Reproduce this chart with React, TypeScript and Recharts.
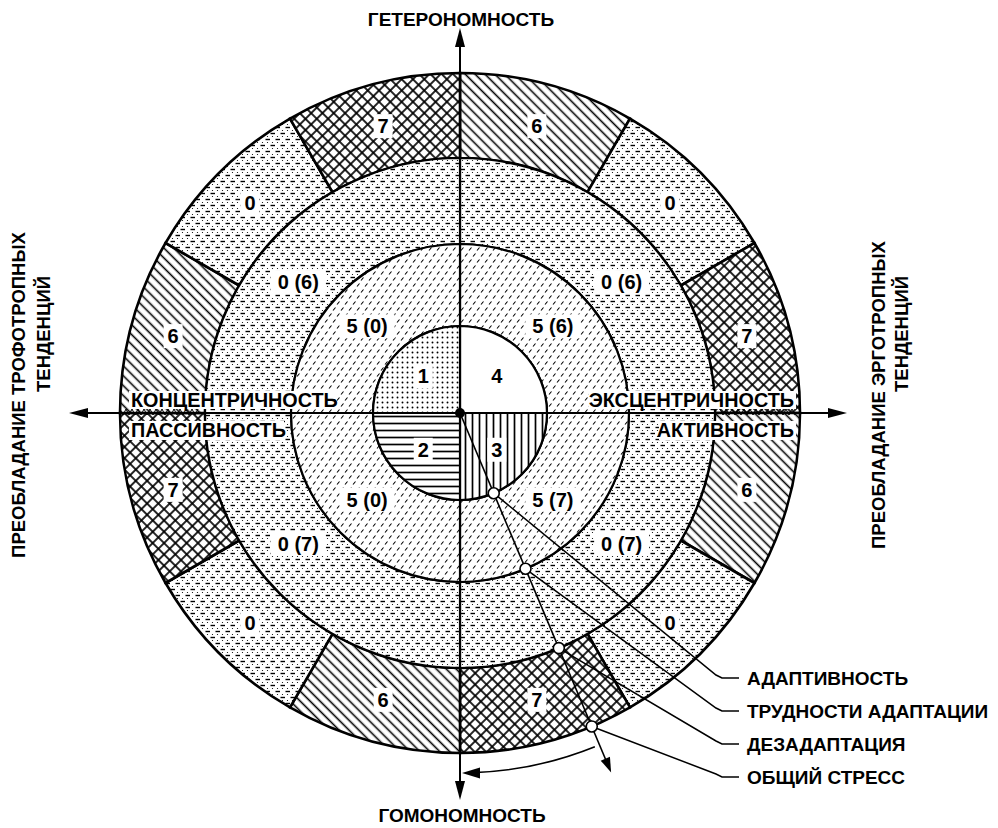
import React from "react";
import { PieChart, Pie, Cell } from "recharts";

// sectors go clockwise from 12 o'clock
const coreLabels = ["4", "3", "2", "1"];
const innerRingLabels = ["5 (6)", "5 (7)", "5 (0)", "5 (0)"];
const middleRingLabels = ["0 (6)", "0 (7)", "0 (7)", "0 (6)"];
const outerRingLabels = ["6", "0", "7", "6", "0", "7", "6", "0", "7", "6", "0", "7"];

const calloutLabels = ["АДАПТИВНОСТЬ", "ТРУДНОСТИ АДАПТАЦИИ", "ДЕЗАДАПТАЦИЯ", "ОБЩИЙ СТРЕСС"];
const topLabel = "ГЕТЕРОНОМНОСТЬ";
const bottomLabel = "ГОМОНОМНОСТЬ";
const leftTitle = ["ПРЕОБЛАДАНИЕ ТРОФОТРОПНЫХ", "ТЕНДЕНЦИЙ"];
const rightTitle = ["ПРЕОБЛАДАНИЕ ЭРГОТРОПНЫХ", "ТЕНДЕНЦИЙ"];
const leftAxisLabels = ["КОНЦЕНТРИЧНОСТЬ", "ПАССИВНОСТЬ"];
const rightAxisLabels = ["ЭКСЦЕНТРИЧНОСТЬ", "АКТИВНОСТЬ"];

const CX = 460;
const CY = 413;
const R_CORE = 87;
const R_INNER = 169;
const R_MIDDLE = 255;
const R_OUTER = 340;
const STRESS_ANGLE = 157.2; // compass degrees, clockwise from up
const FONT = "'Liberation Sans', Arial, sans-serif";

const coreFills = ["#ffffff", "url(#pVert)", "url(#pHoriz)", "url(#pDots)"];
const outerFill: Record<string, string> = {
  "6": "url(#pDiag)",
  "0": "url(#pDash)",
  "7": "url(#pCross)",
};

const toData = (labels: string[]) => labels.map((name) => ({ name, value: 1 }));

function polar(r: number, deg: number): [number, number] {
  const a = (deg * Math.PI) / 180;
  return [CX + r * Math.sin(a), CY - r * Math.cos(a)];
}

function makeLabel(labels: string[], r: number, tilt: number) {
  return (props: any) => {
    const { cx, cy, midAngle, index } = props;
    let a = ((midAngle % 360) + 360) % 360;
    // nudge toward the horizontal axis
    if (a < 90 || (a >= 180 && a < 270)) a -= tilt;
    else a += tilt;
    const rad = (a * Math.PI) / 180;
    const x = cx + r * Math.cos(rad);
    const y = cy - r * Math.sin(rad);
    const text = labels[index];
    const w = text.length * 9 + 10;
    return (
      <g key={`lbl-${index}`}>
        <rect x={x - w / 2} y={y - 12} width={w} height={24} fill="#fff" />
        <text
          x={x}
          y={y}
          textAnchor="middle"
          dominantBaseline="central"
          fontFamily={FONT}
          fontWeight="bold"
          fontSize={20}
          fill="#000"
        >
          {text}
        </text>
      </g>
    );
  };
}

function Patterns() {
  return (
    <defs>
      <pattern id="pDots" width="5" height="5" patternUnits="userSpaceOnUse">
        <rect width="5" height="5" fill="#fff" />
        <circle cx="2.5" cy="2.5" r="0.95" fill="#000" />
      </pattern>
      <pattern id="pHoriz" width="7" height="7" patternUnits="userSpaceOnUse">
        <rect width="7" height="7" fill="#fff" />
        <line x1="0" y1="3.5" x2="7" y2="3.5" stroke="#000" strokeWidth="1.7" />
      </pattern>
      <pattern id="pVert" width="7" height="7" patternUnits="userSpaceOnUse">
        <rect width="7" height="7" fill="#fff" />
        <line x1="3.5" y1="0" x2="3.5" y2="7" stroke="#000" strokeWidth="1.7" />
      </pattern>
      <pattern id="pDiag" width="7" height="7" patternUnits="userSpaceOnUse" patternTransform="rotate(45)">
        <rect width="7" height="7" fill="#fff" />
        <line x1="0" y1="3.5" x2="7" y2="3.5" stroke="#000" strokeWidth="1.6" />
      </pattern>
      <pattern id="pCross" width="8" height="8" patternUnits="userSpaceOnUse" patternTransform="rotate(45)">
        <rect width="8" height="8" fill="#fff" />
        <line x1="0" y1="4" x2="8" y2="4" stroke="#000" strokeWidth="1.7" />
        <line x1="4" y1="0" x2="4" y2="8" stroke="#000" strokeWidth="1.7" />
      </pattern>
      <pattern id="pSlash" width="8" height="12" patternUnits="userSpaceOnUse">
        <rect width="8" height="12" fill="#fff" />
        <line x1="1" y1="4.5" x2="3.5" y2="1.5" stroke="#000" strokeWidth="1.1" />
        <line x1="5" y1="10.5" x2="7.5" y2="7.5" stroke="#000" strokeWidth="1.1" />
      </pattern>
      <pattern id="pDash" width="10" height="12" patternUnits="userSpaceOnUse">
        <rect width="10" height="12" fill="#fff" />
        <line x1="0.5" y1="1.5" x2="5" y2="1.5" stroke="#000" strokeWidth="1.4" />
        <line x1="5.5" y1="7.5" x2="10" y2="7.5" stroke="#000" strokeWidth="1.4" />
        <circle cx="2.5" cy="4.5" r="0.6" fill="#000" />
        <circle cx="7.5" cy="4.5" r="0.6" fill="#000" />
        <circle cx="2.5" cy="10.5" r="0.6" fill="#000" />
        <circle cx="7.5" cy="10.5" r="0.6" fill="#000" />
      </pattern>
    </defs>
  );
}

function zigzag(x0: number, x1: number, y: number) {
  const pts: string[] = [];
  let up = true;
  for (let x = x0; x <= x1; x += 3) {
    pts.push(`${x},${up ? y - 3 : y + 3}`);
    up = !up;
  }
  return pts.join(" ");
}

function Overlay() {
  const txt = {
    fontFamily: FONT,
    fontWeight: "bold" as const,
    fontSize: 19,
    fill: "#000",
  };
  const points = [R_CORE, R_INNER, R_MIDDLE, R_OUTER].map((r) => polar(r, STRESS_ANGLE));
  const calloutY = [678, 711, 744, 777];
  const arrowEnd = polar(390, STRESS_ANGLE);
  const arcStart = polar(360, 158);
  const arcEnd = polar(360, 178.4);
  const ux = Math.sin((STRESS_ANGLE * Math.PI) / 180);
  const uy = -Math.cos((STRESS_ANGLE * Math.PI) / 180);

  return (
    <svg
      width={998}
      height={828}
      style={{ position: "absolute", left: 0, top: 0, pointerEvents: "none" }}
    >
      <Patterns />
      {/* axis band marks */}
      <polyline points={zigzag(120, 200, 412)} fill="none" stroke="#000" strokeWidth={1} />
      <polyline points={zigzag(720, 797, 412)} fill="none" stroke="#000" strokeWidth={1} />

      {/* axes */}
      <line x1={CX} y1={44} x2={CX} y2={786} stroke="#000" strokeWidth={2} />
      <polygon points={`${CX},28 ${CX - 5},47 ${CX + 5},47`} fill="#000" />
      <polygon points={`${CX},800 ${CX - 5},781 ${CX + 5},781`} fill="#000" />
      <line x1={84} y1={CY} x2={832} y2={CY} stroke="#000" strokeWidth={2} />
      <polygon points={`69,${CY} 88,${CY - 5} 88,${CY + 5}`} fill="#000" />
      <polygon points={`847,${CY} 828,${CY - 5} 828,${CY + 5}`} fill="#000" />

      {/* axis words inside the circle */}
      <rect x={129} y={391} width={208} height={18} fill="#fff" />
      <rect x={129} y={421} width={155} height={19} fill="#fff" />
      <rect x={589} y={391} width={207} height={18} fill="#fff" />
      <rect x={659} y={421} width={137} height={19} fill="#fff" />
      <text x={131} y={400} dominantBaseline="central" {...txt} fontSize={19.8}>{leftAxisLabels[0]}</text>
      <text x={131} y={430} dominantBaseline="central" {...txt} fontSize={19.8}>{leftAxisLabels[1]}</text>
      <text x={794} y={400} textAnchor="end" dominantBaseline="central" {...txt} fontSize={19.8}>{rightAxisLabels[0]}</text>
      <text x={794} y={430} textAnchor="end" dominantBaseline="central" {...txt} fontSize={19.8}>{rightAxisLabels[1]}</text>

      {/* titles */}
      <text x={461} y={19} textAnchor="middle" dominantBaseline="central" {...txt}>{topLabel}</text>
      <text x={462} y={815} textAnchor="middle" dominantBaseline="central" {...txt}>{bottomLabel}</text>
      <text x={18} y={395} transform="rotate(-90 18 395)" textAnchor="middle" dominantBaseline="central" {...txt} fontSize={18.5}>{leftTitle[0]}</text>
      <text x={43} y={334} transform="rotate(-90 43 334)" textAnchor="middle" dominantBaseline="central" {...txt} fontSize={18.5}>{leftTitle[1]}</text>
      <text x={878} y={395} transform="rotate(-90 878 395)" textAnchor="middle" dominantBaseline="central" {...txt} fontSize={18.5}>{rightTitle[0]}</text>
      <text x={901} y={334} transform="rotate(-90 901 334)" textAnchor="middle" dominantBaseline="central" {...txt} fontSize={18.5}>{rightTitle[1]}</text>

      {/* stress ray */}
      <line x1={CX} y1={CY} x2={arrowEnd[0] - ux * 12} y2={arrowEnd[1] - uy * 12} stroke="#000" strokeWidth={1.6} />
      <polygon
        points={`${arrowEnd[0]},${arrowEnd[1]} ${arrowEnd[0] - ux * 15 - uy * 5},${arrowEnd[1] - uy * 15 + ux * 5} ${arrowEnd[0] - ux * 15 + uy * 5},${arrowEnd[1] - uy * 15 - ux * 5}`}
        fill="#000"
      />
      <path
        d={`M${arcStart[0]},${arcStart[1]} A360,360 0 0 1 ${arcEnd[0]},${arcEnd[1]}`}
        fill="none"
        stroke="#000"
        strokeWidth={1.6}
      />
      <polygon points={`462,773 480,767.5 480,778.5`} fill="#000" />

      {/* callouts */}
      {points.map(([px, py], i) => (
        <polyline
          key={`lead-${i}`}
          points={`${px},${py} 716,${calloutY[i] - 3} 722,${calloutY[i]} 739,${calloutY[i]}`}
          fill="none"
          stroke="#000"
          strokeWidth={1.5}
        />
      ))}
      {points.map(([px, py], i) => (
        <circle key={`pt-${i}`} cx={px} cy={py} r={5.5} fill="#fff" stroke="#000" strokeWidth={1.6} />
      ))}
      {calloutLabels.map((t, i) => (
        <text key={`cl-${i}`} x={747} y={calloutY[i]} dominantBaseline="central" {...txt}>{t}</text>
      ))}
      <circle cx={CX} cy={CY} r={5} fill="#000" />
    </svg>
  );
}

export default function App() {
  return (
    <div style={{ position: "absolute", left: 0, top: 0, width: 998, height: 828, background: "#fff" }}>
      <PieChart width={998} height={828} margin={{ top: 0, right: 0, bottom: 0, left: 0 }}>
        <Pie
          data={toData(outerRingLabels)}
          dataKey="value"
          cx={CX}
          cy={CY}
          innerRadius={R_MIDDLE}
          outerRadius={R_OUTER}
          startAngle={90}
          endAngle={-270}
          stroke="#000"
          strokeWidth={2.6}
          isAnimationActive={false}
          labelLine={false}
          label={makeLabel(outerRingLabels, 297, 0)}
        >
          {outerRingLabels.map((l, i) => (
            <Cell key={`o-${i}`} fill={outerFill[l]} />
          ))}
        </Pie>
        <Pie
          data={toData(middleRingLabels)}
          dataKey="value"
          cx={CX}
          cy={CY}
          innerRadius={R_INNER}
          outerRadius={R_MIDDLE}
          startAngle={90}
          endAngle={-270}
          stroke="#000"
          strokeWidth={2.2}
          isAnimationActive={false}
          labelLine={false}
          label={makeLabel(middleRingLabels, 208, 6)}
        >
          {middleRingLabels.map((_, i) => (
            <Cell key={`m-${i}`} fill="url(#pDash)" />
          ))}
        </Pie>
        <Pie
          data={toData(innerRingLabels)}
          dataKey="value"
          cx={CX}
          cy={CY}
          innerRadius={R_CORE}
          outerRadius={R_INNER}
          startAngle={90}
          endAngle={-270}
          stroke="#000"
          strokeWidth={2.2}
          isAnimationActive={false}
          labelLine={false}
          label={makeLabel(innerRingLabels, 127, 2)}
        >
          {innerRingLabels.map((_, i) => (
            <Cell key={`i-${i}`} fill="url(#pSlash)" />
          ))}
        </Pie>
        <Pie
          data={toData(coreLabels)}
          dataKey="value"
          cx={CX}
          cy={CY}
          innerRadius={0}
          outerRadius={R_CORE}
          startAngle={90}
          endAngle={-270}
          stroke="#000"
          strokeWidth={2.2}
          isAnimationActive={false}
          labelLine={false}
          label={makeLabel(coreLabels, 52, 0)}
        >
          {coreLabels.map((_, i) => (
            <Cell key={`c-${i}`} fill={coreFills[i]} />
          ))}
        </Pie>
      </PieChart>
      <Overlay />
    </div>
  );
}
